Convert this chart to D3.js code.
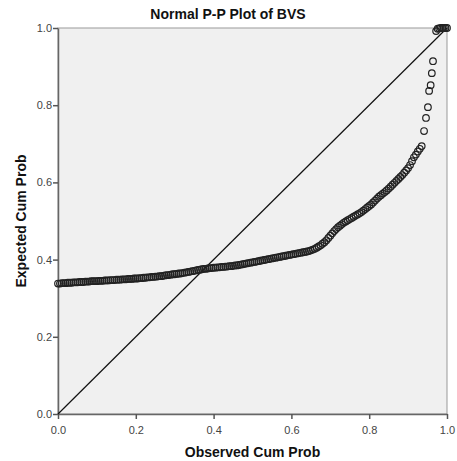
<!DOCTYPE html>
<html>
<head>
<meta charset="utf-8">
<script src="https://cdn.jsdelivr.net/npm/d3@7.9.0/dist/d3.min.js"></script>
<style>
  html, body { margin: 0; padding: 0; background: #fff; }
  svg { display: block; font-family: Arial, "Liberation Sans", sans-serif; }
</style>
</head>
<body>
<svg id="chart" width="457" height="461"></svg>
<script>
// observed vs expected cumulative probability of BVS
const observed = [
  0.000, 0.005, 0.010, 0.015, 0.020, 0.025, 0.030, 0.035, 0.040, 0.045, 0.050,
  0.055, 0.060, 0.065, 0.070, 0.075, 0.080, 0.085, 0.090, 0.095, 0.100,
  0.105, 0.110, 0.115, 0.120, 0.125, 0.130, 0.135, 0.140, 0.145, 0.150,
  0.155, 0.160, 0.165, 0.170, 0.175, 0.180, 0.185, 0.190, 0.195, 0.200,
  0.205, 0.210, 0.215, 0.220, 0.225, 0.230, 0.235, 0.240, 0.245, 0.250,
  0.255, 0.260, 0.265, 0.270, 0.275, 0.280, 0.285, 0.290, 0.295, 0.300,
  0.305, 0.310, 0.315, 0.320, 0.325, 0.330, 0.335, 0.340, 0.345, 0.350,
  0.355, 0.360, 0.365, 0.370, 0.375, 0.380, 0.385, 0.390, 0.395, 0.400,
  0.405, 0.410, 0.415, 0.420, 0.425, 0.430, 0.435, 0.440, 0.445, 0.450,
  0.455, 0.460, 0.465, 0.470, 0.475, 0.480, 0.485, 0.490, 0.495, 0.500,
  0.505, 0.510, 0.515, 0.520, 0.525, 0.530, 0.535, 0.540, 0.545, 0.550,
  0.555, 0.560, 0.565, 0.570, 0.575, 0.580, 0.585, 0.590, 0.595, 0.600,
  0.605, 0.610, 0.615, 0.620, 0.625, 0.630, 0.635, 0.640, 0.645, 0.650,
  0.655, 0.660, 0.665, 0.670, 0.675, 0.680, 0.685, 0.690, 0.695, 0.700,
  0.705, 0.710, 0.715, 0.720, 0.725, 0.730, 0.735, 0.740, 0.745, 0.750,
  0.755, 0.760, 0.765, 0.770, 0.775, 0.780, 0.785, 0.790, 0.795, 0.800,
  0.805, 0.810, 0.815, 0.820, 0.825, 0.830, 0.835, 0.840, 0.845, 0.850,
  0.855, 0.860, 0.865, 0.870, 0.875, 0.880, 0.885, 0.890, 0.895, 0.900,
  0.905, 0.910, 0.915, 0.920, 0.925, 0.930, 0.935,
  0.941, 0.946, 0.951, 0.954, 0.958, 0.961, 0.964,
  0.972, 0.976, 0.980, 0.984, 0.988, 0.992, 0.996, 1.000
];

const expected = [
  0.338, 0.338, 0.339, 0.339, 0.339, 0.340, 0.340, 0.340, 0.341, 0.341, 0.341,
  0.342, 0.342, 0.342, 0.343, 0.343, 0.343, 0.344, 0.344, 0.344, 0.344,
  0.345, 0.345, 0.345, 0.346, 0.346, 0.346, 0.347, 0.347, 0.347, 0.348,
  0.348, 0.348, 0.349, 0.349, 0.349, 0.350, 0.350, 0.350, 0.351, 0.351,
  0.351, 0.352, 0.352, 0.353, 0.353, 0.354, 0.354, 0.355, 0.355, 0.356,
  0.356, 0.357, 0.357, 0.358, 0.359, 0.360, 0.360, 0.361, 0.362, 0.362,
  0.363, 0.364, 0.364, 0.365, 0.366, 0.367, 0.368, 0.369, 0.370, 0.371,
  0.372, 0.373, 0.374, 0.375, 0.376, 0.376, 0.377, 0.378, 0.378, 0.379,
  0.379, 0.380, 0.380, 0.381, 0.381, 0.382, 0.382, 0.383, 0.383, 0.384,
  0.385, 0.385, 0.386, 0.387, 0.388, 0.389, 0.390, 0.391, 0.392, 0.393,
  0.394, 0.395, 0.396, 0.397, 0.398, 0.399, 0.400, 0.401, 0.402, 0.403,
  0.404, 0.405, 0.406, 0.407, 0.408, 0.409, 0.410, 0.411, 0.412, 0.413,
  0.414, 0.415, 0.416, 0.417, 0.418, 0.419, 0.420, 0.421, 0.422, 0.424,
  0.426, 0.428, 0.431, 0.434, 0.437, 0.441, 0.445, 0.450, 0.456, 0.462,
  0.468, 0.474, 0.479, 0.484, 0.488, 0.492, 0.496, 0.499, 0.502, 0.505,
  0.508, 0.511, 0.514, 0.517, 0.520, 0.523, 0.527, 0.531, 0.535, 0.539,
  0.543, 0.548, 0.553, 0.558, 0.563, 0.567, 0.571, 0.575, 0.579, 0.584,
  0.589, 0.594, 0.599, 0.604, 0.609, 0.614, 0.619, 0.625, 0.631, 0.637,
  0.645, 0.655, 0.665, 0.672, 0.680, 0.687, 0.694,
  0.733, 0.767, 0.795, 0.837, 0.852, 0.883, 0.914,
  0.992, 0.998, 0.999, 1.000, 1.000, 1.000, 1.000, 1.000
];

const tickValues = [0.0, 0.2, 0.4, 0.6, 0.8, 1.0];

const svg = d3.select('#chart');
const margin = { top: 28, right: 10, bottom: 47, left: 58 };
const width = 457 - margin.left - margin.right;
const height = 461 - margin.top - margin.bottom;

const x = d3.scaleLinear().domain([0, 1]).range([margin.left, margin.left + width]);
const y = d3.scaleLinear().domain([0, 1]).range([margin.top + height, margin.top]);

// plot background + frame
svg.append('rect')
  .attr('x', x(0)).attr('y', y(1))
  .attr('width', width).attr('height', height)
  .attr('fill', '#f0f0f0')
  .attr('stroke', '#999')
  .attr('stroke-width', 1);

// axes
const xAxis = svg.append('g')
  .attr('transform', `translate(0,${y(0)})`)
  .call(d3.axisBottom(x).tickValues(tickValues).tickFormat(d3.format('.1f')).tickSize(5).tickSizeOuter(0));
const yAxis = svg.append('g')
  .attr('transform', `translate(${x(0)},0)`)
  .call(d3.axisLeft(y).tickValues(tickValues).tickFormat(d3.format('.1f')).tickSize(5).tickSizeOuter(0));

[xAxis, yAxis].forEach(g => {
  g.select('.domain').attr('stroke', '#666').attr('stroke-width', 1.5);
  g.selectAll('.tick line').attr('stroke', '#555').attr('stroke-width', 1.5);
  g.selectAll('.tick text')
    .attr('fill', '#444')
    .style('font-size', '11px')
    .style('font-family', 'Arial, "Liberation Sans", sans-serif');
});
xAxis.selectAll('.tick text').attr('dy', '1.05em');
yAxis.selectAll('.tick text').attr('x', -6);

// reference diagonal
svg.append('line')
  .attr('x1', x(0)).attr('y1', y(0))
  .attr('x2', x(1)).attr('y2', y(1))
  .attr('stroke', '#111')
  .attr('stroke-width', 1.2);

// points
const points = observed.map((o, i) => ({ o, e: expected[i] }));
svg.append('g')
  .selectAll('circle')
  .data(points)
  .join('circle')
  .attr('cx', d => x(d.o))
  .attr('cy', d => y(d.e))
  .attr('r', 3.3)
  .attr('fill', 'none')
  .attr('stroke', '#222')
  .attr('stroke-width', 1.2);

// titles
svg.append('text')
  .attr('x', 228).attr('y', 19)
  .attr('text-anchor', 'middle')
  .style('font-size', '14px')
  .style('font-weight', 'bold')
  .attr('fill', '#111')
  .text('Normal P-P Plot of BVS');

svg.append('text')
  .attr('x', x(0.5)).attr('y', 457)
  .attr('text-anchor', 'middle')
  .style('font-size', '14px')
  .style('font-weight', 'bold')
  .attr('fill', '#111')
  .text('Observed Cum Prob');

svg.append('text')
  .attr('transform', `translate(26,${y(0.5)}) rotate(-90)`)
  .attr('text-anchor', 'middle')
  .style('font-size', '14px')
  .style('font-weight', 'bold')
  .attr('fill', '#111')
  .text('Expected Cum Prob');
</script>
</body>
</html>
